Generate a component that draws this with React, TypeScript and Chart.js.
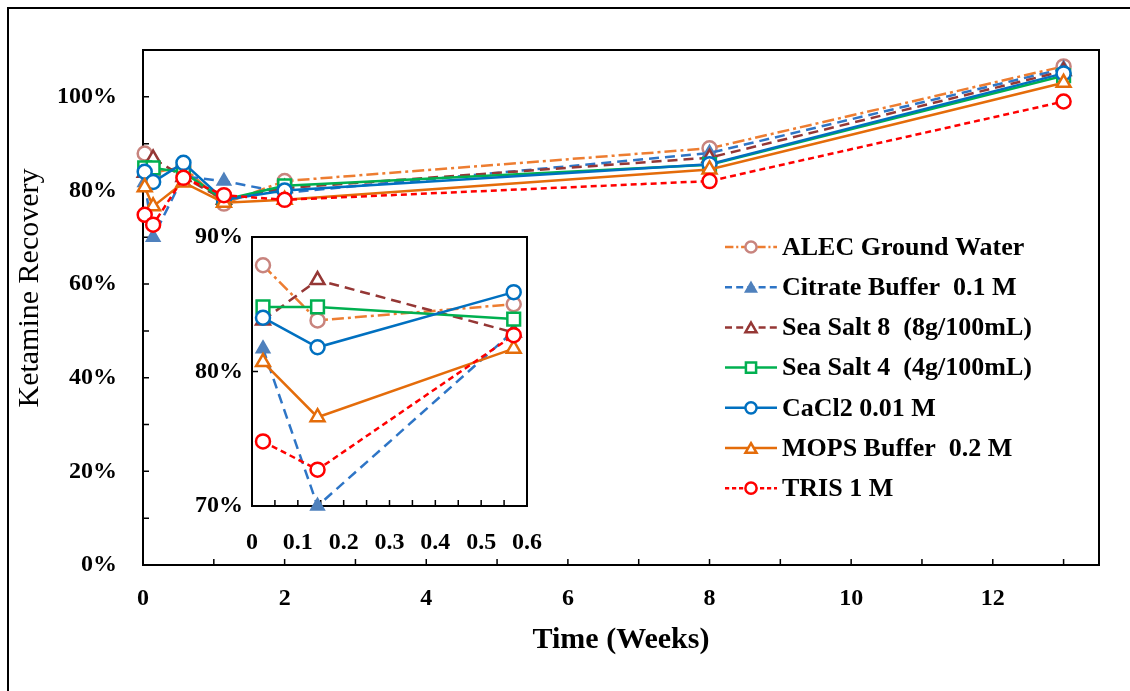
import React, { useEffect, useRef } from 'react';
import { Chart, registerables } from 'chart.js';
Chart.register(...registerables);

// ---------- data ----------
const weeks = [0.024, 0.143, 0.571, 1.143, 2, 8, 13];
const insetPointCount = 3;
const seriesNames = [
  'ALEC Ground Water',
  'Citrate Buffer  0.1 M',
  'Sea Salt 8  (8g/100mL)',
  'Sea Salt 4  (4g/100mL)',
  'CaCl2 0.01 M',
  'MOPS Buffer  0.2 M',
  'TRIS 1 M',
];
const alec = [87.9, 83.8, 85.0, 77.2, 82.0, 89.0, 106.5];
const citrate = [81.7, 70.0, 83.0, 82.0, 79.5, 88.0, 106.0];
const seaSalt8 = [83.8, 86.8, 82.9, 78.0, 80.5, 87.0, 105.5];
const seaSalt4 = [84.8, 84.8, 83.9, 78.0, 81.0, 85.5, 104.5];
const cacl2 = [84.0, 81.8, 85.9, 78.0, 80.0, 85.6, 105.0];
const mops = [80.7, 76.6, 81.7, 77.4, 78.0, 84.5, 103.0];
const tris = [74.8, 72.7, 82.7, 79.0, 78.0, 82.0, 99.0];
const seriesValues = [alec, citrate, seaSalt8, seaSalt4, cacl2, mops, tris];

const mainXMin = 0, mainXMax = 13.5, mainXStep = 1, mainXLabelEvery = 2;
const mainYMin = 0, mainYMax = 110, mainYStep = 10, mainYLabelEvery = 20;
const insetXMin = 0, insetXMax = 0.6, insetXStep = 0.05;
const insetYMin = 70, insetYMax = 90, insetYStep = 10;
const xTitle = 'Time (Weeks)';
const yTitle = 'Ketamine Recovery';

// ---------- styles ----------
const FONT = '"Liberation Serif", "Times New Roman", serif';
const styles = [
  { line: '#ED7D31', marker: '#C8847E', fill: '#FFFFFF', shape: 'circle', dash: [12, 4, 3, 4], r: 7 },
  { line: '#2E75C6', marker: '#4F81BD', fill: '#4F81BD', shape: 'triangle', dash: [10, 6], r: 7 },
  { line: '#953735', marker: '#953735', fill: '#FFFFFF', shape: 'triangle', dash: [10, 6], r: 8 },
  { line: '#00B050', marker: '#00B050', fill: '#FFFFFF', shape: 'rect', dash: [], r: 9 },
  { line: '#0070C0', marker: '#0070C0', fill: '#FFFFFF', shape: 'circle', dash: [], r: 7 },
  { line: '#E46C0A', marker: '#E46C0A', fill: '#FFFFFF', shape: 'triangle', dash: [], r: 8 },
  { line: '#FF0000', marker: '#FF0000', fill: '#FFFFFF', shape: 'circle', dash: [6, 4], r: 7 },
];

function makeDatasets(count: number) {
  return seriesNames.map((name, i) => {
    const s = styles[i];
    return {
      label: name,
      data: weeks.slice(0, count).map((w, j) => ({ x: w, y: seriesValues[i][j] })),
      showLine: true,
      borderColor: s.line,
      borderWidth: 2.5,
      borderDash: s.dash,
      pointStyle: s.shape,
      pointRadius: s.r,
      pointBorderWidth: 2.5,
      pointBorderColor: s.marker,
      pointBackgroundColor: s.fill,
      clip: false as any,
      order: seriesNames.length - i,
    };
  });
}

function frameTicksPlugin(xStep: number, yStep: number, tickLen: number) {
  return {
    id: 'frameTicks',
    beforeDatasetsDraw(chart: any) {
      const { ctx, chartArea: a, scales } = chart;
      const x = scales.x, y = scales.y;
      ctx.save();
      ctx.fillStyle = '#FFFFFF';
      ctx.fillRect(a.left, a.top, a.right - a.left, a.bottom - a.top);
      ctx.strokeStyle = '#000';
      ctx.lineWidth = 2;
      ctx.strokeRect(a.left, a.top, a.right - a.left, a.bottom - a.top);
      ctx.lineWidth = 1.5;
      ctx.beginPath();
      const nx = Math.round((x.max - x.min) / xStep + 1e-6);
      for (let i = 0; i <= nx; i++) {
        const px = x.getPixelForValue(x.min + i * xStep);
        ctx.moveTo(px, a.bottom);
        ctx.lineTo(px, a.bottom - tickLen);
      }
      const ny = Math.round((y.max - y.min) / yStep + 1e-6);
      for (let i = 0; i <= ny; i++) {
        const py = y.getPixelForValue(y.min + i * yStep);
        ctx.moveTo(a.left, py);
        ctx.lineTo(a.left + tickLen, py);
      }
      ctx.stroke();
      ctx.restore();
    },
  };
}

const yTitlePlugin = {
  id: 'yTitle',
  afterDraw(chart: any) {
    const { ctx } = chart;
    ctx.save();
    ctx.translate(30, 288);
    ctx.rotate(-Math.PI / 2);
    ctx.font = `30px ${FONT}`;
    ctx.fillStyle = '#000';
    ctx.textAlign = 'center';
    ctx.textBaseline = 'middle';
    ctx.fillText(yTitle, 0, 0);
    ctx.restore();
  },
};

function drawMarker(ctx: CanvasRenderingContext2D, shape: string, x: number, y: number, r: number) {
  ctx.beginPath();
  if (shape === 'circle') {
    ctx.arc(x, y, r, 0, Math.PI * 2);
  } else if (shape === 'rect') {
    const h = r * Math.SQRT1_2;
    ctx.rect(x - h, y - h, 2 * h, 2 * h);
  } else {
    const rad = -Math.PI / 2;
    for (let k = 0; k < 3; k++) {
      const ang = rad + (k * 2 * Math.PI) / 3;
      const px = x + Math.cos(ang) * r;
      const py = y + Math.sin(ang) * r + r * 0.25;
      if (k === 0) ctx.moveTo(px, py);
      else ctx.lineTo(px, py);
    }
    ctx.closePath();
  }
  ctx.fill();
  ctx.stroke();
}

const legendPlugin = {
  id: 'customLegend',
  afterDraw(chart: any) {
    const { ctx } = chart;
    ctx.save();
    seriesNames.forEach((name, i) => {
      const s = styles[i];
      const y = 247 + 40.2 * i;
      ctx.strokeStyle = s.line;
      ctx.lineWidth = 2.5;
      ctx.setLineDash(s.dash.length ? s.dash.map((d) => d * 0.7) : []);
      ctx.beginPath();
      ctx.moveTo(725, y);
      ctx.lineTo(777, y);
      ctx.stroke();
      ctx.setLineDash([]);
      ctx.lineWidth = 2.5;
      ctx.strokeStyle = s.marker;
      ctx.fillStyle = s.fill;
      drawMarker(ctx, s.shape, 751, y, s.r * 0.8);
      ctx.fillStyle = '#000';
      ctx.font = `bold 26px ${FONT}`;
      ctx.textAlign = 'left';
      ctx.textBaseline = 'middle';
      ctx.fillText(name, 782, y + 1);
    });
    ctx.restore();
  },
};

const tickFont = { family: FONT, size: 24, weight: 'bold' as const, lineHeight: 1 };

export default function App() {
  const mainRef = useRef<HTMLCanvasElement>(null);
  const insetRef = useRef<HTMLCanvasElement>(null);

  useEffect(() => {
    const main = new Chart(mainRef.current!, {
      type: 'scatter',
      data: { datasets: makeDatasets(weeks.length) as any },
      options: {
        responsive: false,
        animation: false,
        devicePixelRatio: 1,
        events: [],
        layout: { padding: { left: 0, top: 50, right: 31, bottom: 0 } },
        plugins: { legend: { display: false }, tooltip: { enabled: false } },
        scales: {
          x: {
            type: 'linear',
            min: mainXMin,
            max: mainXMax,
            grid: { display: false, drawTicks: false },
            border: { display: false },
            afterFit: (s: any) => { s.height = 126; s.paddingLeft = 0; s.paddingRight = 0; },
            ticks: {
              stepSize: mainXStep,
              autoSkip: false,
              maxRotation: 0,
              padding: 22,
              color: '#000',
              font: tickFont,
              callback: (v: any) => (Number.isInteger(v) && v % mainXLabelEvery === 0 ? String(v) : ''),
            },
            title: {
              display: true,
              text: xTitle,
              color: '#000',
              font: { family: FONT, size: 30, weight: 'bold', lineHeight: 1 },
              padding: { top: 0, bottom: 36 },
            },
          },
          y: {
            type: 'linear',
            min: mainYMin,
            max: mainYMax,
            grid: { display: false, drawTicks: false },
            border: { display: false },
            afterFit: (s: any) => { s.width = 143; s.paddingTop = 0; s.paddingBottom = 0; },
            ticks: {
              stepSize: mainYStep,
              autoSkip: false,
              padding: 26,
              color: '#000',
              font: tickFont,
              callback: (v: any) => (Math.round(v) % mainYLabelEvery === 0 && v <= 100 ? `${v}%` : ''),
            },
          },
        },
      },
      plugins: [frameTicksPlugin(mainXStep, mainYStep, 6), yTitlePlugin, legendPlugin],
    });

    const inset = new Chart(insetRef.current!, {
      type: 'scatter',
      data: { datasets: makeDatasets(insetPointCount) as any },
      options: {
        responsive: false,
        animation: false,
        devicePixelRatio: 1,
        events: [],
        layout: { padding: { left: 0, top: 17, right: 23, bottom: 0 } },
        plugins: { legend: { display: false }, tooltip: { enabled: false } },
        scales: {
          x: {
            type: 'linear',
            min: insetXMin,
            max: insetXMax,
            grid: { display: false, drawTicks: false },
            border: { display: false },
            afterFit: (s: any) => { s.height = 64; s.paddingLeft = 0; s.paddingRight = 0; },
            ticks: {
              stepSize: insetXStep,
              autoSkip: false,
              maxRotation: 0,
              padding: 25,
              color: '#000',
              font: tickFont,
              callback: (v: any) => {
                const t = v * 10;
                return Math.abs(t - Math.round(t)) < 1e-6 ? String(Math.round(t) / 10) : '';
              },
            },
          },
          y: {
            type: 'linear',
            min: insetYMin,
            max: insetYMax,
            grid: { display: false, drawTicks: false },
            border: { display: false },
            afterFit: (s: any) => { s.width = 102; s.paddingTop = 0; s.paddingBottom = 0; },
            ticks: {
              stepSize: insetYStep,
              autoSkip: false,
              padding: 9,
              color: '#000',
              font: tickFont,
              callback: (v: any) => `${v}%`,
            },
          },
        },
      },
      plugins: [frameTicksPlugin(insetXStep, insetYStep, 6)],
    });

    return () => {
      main.destroy();
      inset.destroy();
    };
  }, []);

  return (
    <div style={{ position: 'fixed', left: 0, top: 0, width: 1130, height: 691, overflow: 'hidden', background: '#fff' }}>
      <div style={{ position: 'absolute', left: 7, top: 7, width: 1200, height: 800, border: '2px solid #000' }} />
      <canvas ref={mainRef} width={1130} height={691} style={{ position: 'absolute', left: 0, top: 0 }} />
      <canvas ref={insetRef} width={400} height={350} style={{ position: 'absolute', left: 150, top: 220 }} />
    </div>
  );
}
